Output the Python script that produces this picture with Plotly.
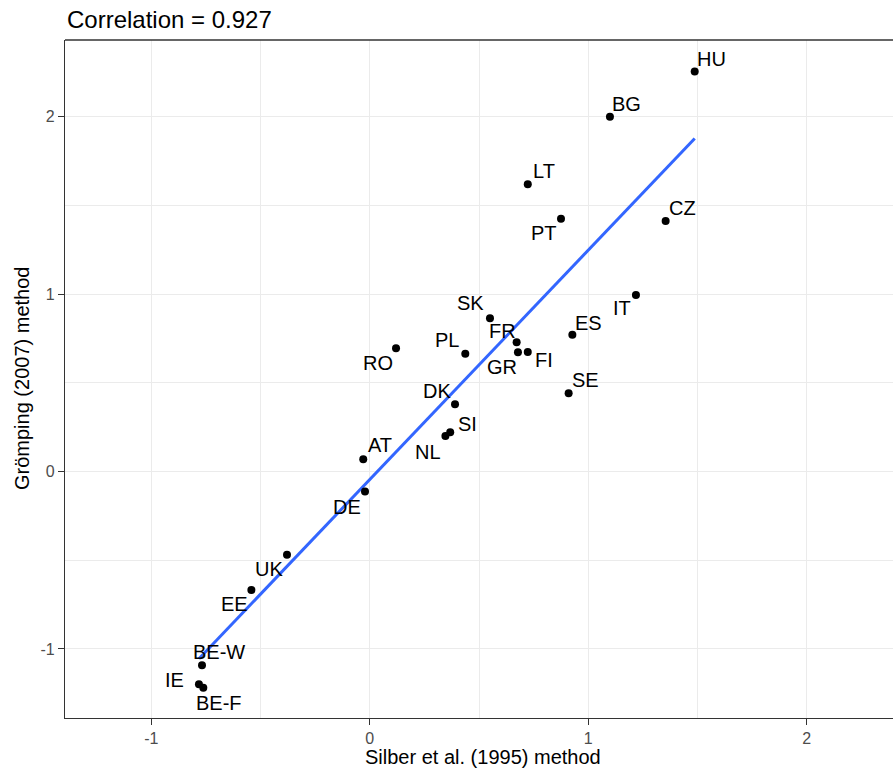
import numpy as np
import plotly.graph_objects as go

countries = ["HU", "BG", "CZ", "LT", "PT", "IT", "ES", "SE", "SK", "FR", "GR", "FI",
             "PL", "RO", "DK", "SI", "NL", "AT", "DE", "UK", "EE", "BE-W", "IE", "BE-F"]
silber = [1.487, 1.099, 1.354, 0.723, 0.875, 1.218, 0.927, 0.910, 0.550, 0.672, 0.678, 0.723,
          0.437, 0.120, 0.390, 0.368, 0.346, -0.030, -0.022, -0.379, -0.542, -0.768, -0.782, -0.762]
gromping = [2.254, 2.000, 1.412, 1.619, 1.425, 0.995, 0.771, 0.441, 0.864, 0.729, 0.672, 0.674,
            0.664, 0.695, 0.379, 0.221, 0.200, 0.069, -0.113, -0.469, -0.667, -1.092, -1.199, -1.218]
# label offsets (pixels) as placed by the label-repel layout
label_dx = [17, 17, 17, 16, -17, -14, 16, 17, -19, -14, -16, 16,
            -18, -18, -18, 17, -17, 17, -18, -18, -17, 17, -24, 16]
label_dy = [13, 13, 13, 13, -14, -13, 12, 13, 15, 11, -15, -8,
            14, -15, 13, 8, -16, 14, -15, -14, -14, 13, 4, -15]
x_ticks = [-1, 0, 1, 2]
y_ticks = [-1, 0, 1, 2]
title_text = "Correlation = 0.927"
x_title = "Silber et al. (1995) method"
y_title = "Grömping (2007) method"

xs = np.array(silber)
ys = np.array(gromping)
slope, intercept = np.polyfit(xs, ys, 1)
line_x = np.array([xs.min(), xs.max()])
line_y = intercept + slope * line_x

FONT = "Liberation Sans, Arial, sans-serif"
W, H = 893, 773
ML, MR, MT, MB = 65, 0, 40, 55
PW = W - ML - MR
PH = H - MT - MB

fig = go.Figure()
fig.add_trace(go.Scatter(x=line_x, y=line_y, mode="lines",
                         line=dict(color="#3366FF", width=3), hoverinfo="skip",
                         showlegend=False))
fig.add_trace(go.Scatter(x=silber, y=gromping, mode="markers",
                         marker=dict(color="black", size=8), text=countries,
                         showlegend=False))

annotations = []
for c, x, y, dx, dy in zip(countries, silber, gromping, label_dx, label_dy):
    annotations.append(dict(x=x, y=y, xref="x", yref="y", text=c, showarrow=False,
                            xshift=dx, yshift=dy,
                            font=dict(family=FONT, size=20, color="black")))

annotations.append(dict(text=title_text, xref="paper", yref="paper", x=0, y=1 + 21 / PH,
                        xanchor="left", yanchor="middle", showarrow=False,
                        font=dict(family=FONT, size=24, color="black")))
annotations.append(dict(text=x_title, xref="paper", yref="paper", x=(482.5 - ML) / PW,
                        y=-(757 - (H - MB)) / PH, xanchor="center", yanchor="middle",
                        showarrow=False, font=dict(family=FONT, size=20, color="black")))
annotations.append(dict(text=y_title, xref="paper", yref="paper", x=(22 - ML) / PW,
                        y=(H - MB - 379) / PH, xanchor="center", yanchor="middle",
                        textangle=-90, showarrow=False,
                        font=dict(family=FONT, size=20, color="black")))

axis_common = dict(
    showgrid=True, gridcolor="#EBEBEB", gridwidth=1.4,
    zeroline=False, showline=True, linecolor="#333333", linewidth=1.3,
    ticks="outside", ticklen=6, tickwidth=1.3, tickcolor="#333333",
    tickfont=dict(family=FONT, size=16, color="#4D4D4D"),
    minor=dict(dtick=0.5, showgrid=True, gridcolor="#EBEBEB", gridwidth=0.7, ticks=""),
)

fig.update_layout(
    width=W, height=H,
    margin=dict(l=ML, r=MR, t=MT, b=MB, pad=0),
    plot_bgcolor="white", paper_bgcolor="white",
    xaxis=dict(range=[-1.395, 2.3945], tickvals=x_ticks, ticktext=[str(v) for v in x_ticks],
               tick0=0, **axis_common),
    yaxis=dict(range=[-1.389, 2.432], tickvals=y_ticks, ticktext=[str(v) for v in y_ticks],
               tick0=0, **axis_common),
    annotations=annotations,
    shapes=[dict(type="line", xref="paper", yref="paper", x0=0, x1=1, y0=1, y1=1,
                 line=dict(color="#333333", width=1.3))],
    font=dict(family=FONT),
)

fig.write_html("out.html", config={"displayModeBar": False},
               post_script="document.body.style.margin='0';document.body.style.overflow='hidden';")
